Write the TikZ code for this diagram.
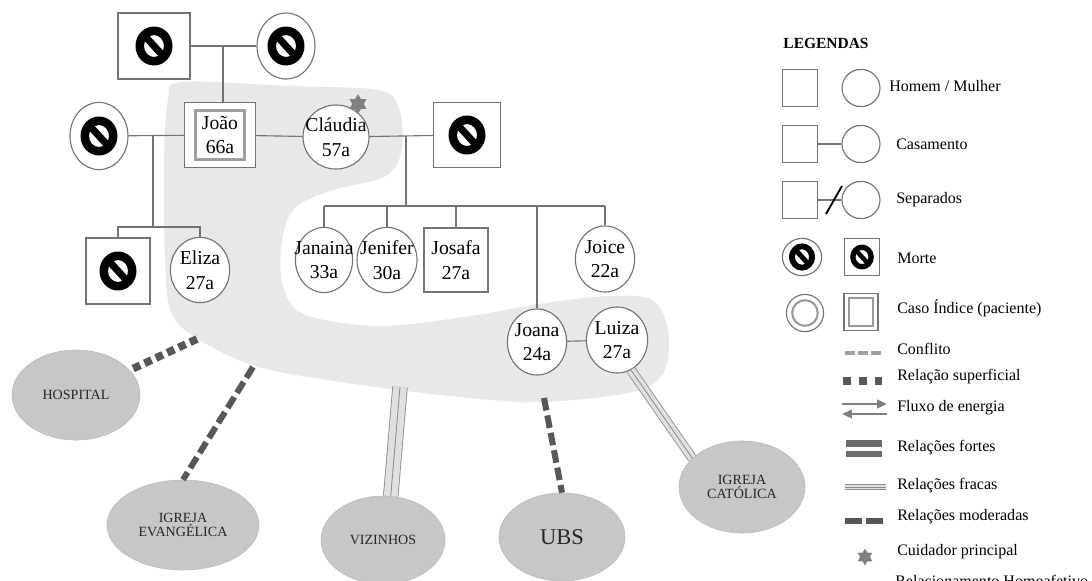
\documentclass[tikz,border=0pt]{standalone}
\usepackage{fontspec}
\setmainfont{Liberation Serif}
\usetikzlibrary{arrows.meta,shapes.geometric}
\definecolor{cinzalinha}{gray}{0.45}
\definecolor{cinzaregiao}{gray}{0.91}
\definecolor{cinzarecurso}{gray}{0.78}
\definecolor{cinzaescuro}{gray}{0.34}
\definecolor{cinzamedio}{gray}{0.55}
\definecolor{cinzaclaro}{gray}{0.88}
\newcommand\nomefonte{\fontsize{14}{17.5}\selectfont}
\newcommand\legfonte{\fontsize{11.4}{13}\selectfont}
\newcommand\recfonte{\fontsize{10}{10.5}\selectfont}
\tikzset{
  morte/.pic={
    \fill[even odd rule] (0,0) ellipse [x radius=18.5, y radius=19.5] (0,0) ellipse [x radius=10, y radius=11];
    \fill (-13.6,-9.6) -- (-8.4,-14.4) -- (13.6,9.6) -- (8.4,14.4) -- cycle;
  }
}
\begin{document}
\begin{tikzpicture}[x=0.025cm,y=-0.025cm,
  familia/.style={draw=cinzalinha,line width=0.8pt},
  homem/.style={rectangle,draw=cinzalinha,line width=0.8pt,fill=white,inner sep=0pt,align=center,font=\nomefonte},
  mulher/.style={ellipse,draw=cinzalinha,line width=0.8pt,fill=white,inner sep=-8pt,align=center,font=\nomefonte},
  recurso/.style={ellipse,draw=gray!55,line width=0.4pt,fill=cinzarecurso,inner sep=0pt,align=center,text=black!85,font=\recfonte},
  superficial/.style={draw=cinzaescuro,line width=5.5pt,dash pattern=on 5.5pt off 3.4pt},
  moderada/.style={draw=cinzaescuro,line width=4.3pt,dash pattern=on 9pt off 3.6pt},
  fraca/.style={preaction={draw=cinzamedio,line width=#1},preaction={draw=cinzaclaro,line width=#1-1.2pt},draw=cinzamedio,line width=0.6pt},
  fraca/.default=8pt,
  cuidador/.style={star,star points=6,star point ratio=1.7,fill=gray,inner sep=0pt},
  texto/.style={anchor=west,inner sep=0pt,font=\legfonte}]
\useasboundingbox (0,0) rectangle (1092,580);
\fill[cinzaregiao] plot[smooth cycle,tension=0.55] coordinates {(182,82) (290,86) (378,90) (399,108) (402,148) (386,176) (330,191) (293,210) (281,248) (284,290) (306,315) (380,326) (470,316) (545,303) (610,296) (652,300) (668,330) (664,372) (632,392) (540,402) (450,396) (340,382) (255,366) (196,338) (171,312) (165,260) (164,160) (168,100)};

\node[homem,minimum width=1.8cm,minimum height=1.65cm] (avo) at (154,46) {};
\pic at (avo) {morte};
\node[mulher,minimum width=1.45cm,minimum height=1.65cm] (avoa) at (286,46) {};
\pic at (avoa) {morte};
\node[mulher,minimum width=1.45cm,minimum height=1.68cm] (exesposa) at (99,136) {};
\pic at (exesposa) {morte};
\node[homem,minimum width=1.78cm,minimum height=1.63cm] (joao) at (220,135) {João\\66a};
\node[draw=gray!75,line width=2.2pt,minimum size=1.22cm,inner sep=0pt] (joaoindice) at (joao) {};
\node[mulher,minimum width=1.65cm,minimum height=1.6cm] (claudia) at (336,137) {Cláudia\\57a};
\node[homem,minimum width=1.68cm,minimum height=1.63cm] (marido) at (467,135) {};
\pic at (marido) {morte};
\node[homem,minimum width=1.6cm,minimum height=1.65cm] (filho) at (118,271) {};
\pic at (filho) {morte};
\node[mulher,minimum width=1.48cm,minimum height=1.63cm] (eliza) at (200,270) {Eliza\\27a};
\node[mulher,minimum width=1.43cm,minimum height=1.63cm] (janaina) at (324,260) {Janaina\\33a};
\node[mulher,minimum width=1.5cm,minimum height=1.63cm] (jenifer) at (387,260) {Jenifer\\30a};
\node[homem,minimum width=1.6cm,minimum height=1.6cm] (josafa) at (456,260) {Josafa\\27a};
\node[mulher,minimum width=1.48cm,minimum height=1.65cm] (joice) at (605,259) {Joice\\22a};
\node[mulher,minimum width=1.48cm,minimum height=1.65cm] (joana) at (537,342) {Joana\\24a};
\node[mulher,minimum width=1.53cm,minimum height=1.65cm] (luiza) at (617,340) {Luiza\\27a};
\node[cuidador,minimum size=14pt] (estrela) at (358,104) {};

\draw[familia] (avo) -- (avoa);
\coordinate (uniao1) at (223,46);
\draw[familia] (uniao1) -- (uniao1 |- joao.north);
\draw[familia] (exesposa) -- (joao);
\coordinate (uniao2) at (153,136);
\coordinate (irmaos1) at (153,227);
\draw[familia] (uniao2) -- (irmaos1);
\draw[familia] (filho.north) |- (irmaos1) -| (eliza.north);
\draw[familia] (joao) -- (claudia);
\draw[familia] (claudia) -- (marido);
\coordinate (uniao3) at (406,136);
\coordinate (irmaos2) at (406,206);
\draw[familia] (uniao3) -- (irmaos2);
\draw[familia] (janaina.north |- irmaos2) -- (joice.north |- irmaos2);
\foreach \f in {janaina,jenifer,josafa,joice,joana}
  \draw[familia] (\f.north) -- (\f.north |- irmaos2);
\draw[familia] (joana) -- (luiza);

\node[recurso,minimum width=3.2cm,minimum height=2.25cm] (hospital) at (76,395) {HOSPITAL};
\node[recurso,minimum width=3.8cm,minimum height=2.25cm] (evangelica) at (183,525) {IGREJA\\EVANGÉLICA};
\node[recurso,minimum width=3.1cm,minimum height=2.2cm] (vizinhos) at (383,540) {VIZINHOS};
\node[recurso,minimum width=3.15cm,minimum height=2.2cm,font=\fontsize{16}{18}\selectfont] (ubs) at (562,537) {UBS};
\node[recurso,minimum width=3.15cm,minimum height=2.3cm] (catolica) at (742,487) {IGREJA\\CATÓLICA};

\coordinate (pH) at (197,339);
\draw[superficial] (pH) -- (hospital);
\coordinate (pE) at (253,367);
\draw[moderada] (pE) -- (evangelica.north);
\coordinate (pV) at (400,387);
\draw[fraca=11pt] (pV) -- (vizinhos.80);
\coordinate (pU) at (544,398);
\draw[moderada] (pU) -- (ubs.north);
\draw[fraca=7pt] (luiza.-65) -- (catolica.150);

\node[font=\bfseries\fontsize{11}{13}\selectfont] (legendas) at (826,43) {LEGENDAS};
\node[homem,minimum width=0.88cm,minimum height=0.93cm] (lh1) at (800,88) {};
\node[mulher,minimum width=0.95cm,minimum height=0.93cm] (lm1) at (861,88) {};
\node[texto] at (889,86) {Homem / Mulher};
\node[homem,minimum width=0.88cm,minimum height=0.93cm] (lh2) at (800,144) {};
\node[mulher,minimum width=0.95cm,minimum height=0.93cm] (lm2) at (861,144) {};
\draw[familia] (lh2) -- (lm2);
\node[texto] at (896,144) {Casamento};
\node[homem,minimum width=0.88cm,minimum height=0.93cm] (lh3) at (800,200) {};
\node[mulher,minimum width=0.95cm,minimum height=0.93cm] (lm3) at (861,200) {};
\draw[familia] (lh3) -- (lm3);
\draw[line width=1.3pt] (834,200) +(-8,14) -- +(8,-14);
\node[texto] at (896,200) {Separados};
\node[mulher,minimum width=0.98cm,minimum height=0.93cm] (lmorte) at (802,257) {};
\pic[scale=0.7] at (lmorte) {morte};
\node[homem,minimum width=0.88cm,minimum height=0.93cm] (lhmorte) at (862,257) {};
\pic[scale=0.64] at (lhmorte) {morte};
\node[texto] at (897,258) {Morte};
\node[mulher,minimum size=0.93cm] (lindice) at (805,313) {};
\node[circle,draw=gray!80,line width=1.5pt,minimum size=0.64cm,inner sep=0pt] (lindice2) at (lindice) {};
\node[homem,minimum width=0.85cm,minimum height=0.93cm] (lhindice) at (861,312) {};
\node[draw=gray!80,line width=1.6pt,minimum width=0.6cm,minimum height=0.7cm,inner sep=0pt] (lhindice2) at (lhindice) {};
\node[texto] at (897,308) {Caso Índice (paciente)};
\draw[draw=gray!75,line width=2.2pt,dash pattern=on 7pt off 2.3pt] (845,353) -- (881,353);
\node[texto] at (897,349) {Conflito};
\draw[draw=cinzaescuro,line width=5.6pt,dash pattern=on 5.6pt off 5.6pt] (843,381) -- (885,381);
\node[texto] at (897,377) {Relação superficial};
\draw[draw=gray,line width=1.8pt,-{Triangle[length=7pt,width=6pt]}] (842,404) -- (887,404);
\draw[draw=gray,line width=1.8pt,-{Triangle[length=7pt,width=6pt]}] (887,414) -- (842,414);
\node[texto] at (897,408) {Fluxo de energia};
\draw[draw=gray!85!black,line width=4.8pt] (846,443.5) -- (882,443.5);
\draw[draw=gray!85!black,line width=4.5pt] (846,454) -- (882,454);
\node[texto] at (897,448) {Relações fortes};
\draw[fraca=3.8pt] (845,487) -- (886,487);
\node[texto] at (897,486) {Relações fracas};
\draw[draw=cinzaescuro,line width=3.6pt,dash pattern=on 12pt off 3pt] (845,521) -- (885,521);
\node[texto] at (897,517) {Relações moderadas};
\node[cuidador,minimum size=12pt] (lestrela) at (865,557) {};
\node[texto] at (897,552) {Cuidador principal};
\node[texto,anchor=base west] at (895,586) {Relacionamento Homoafetivo};
\end{tikzpicture}
\end{document}
